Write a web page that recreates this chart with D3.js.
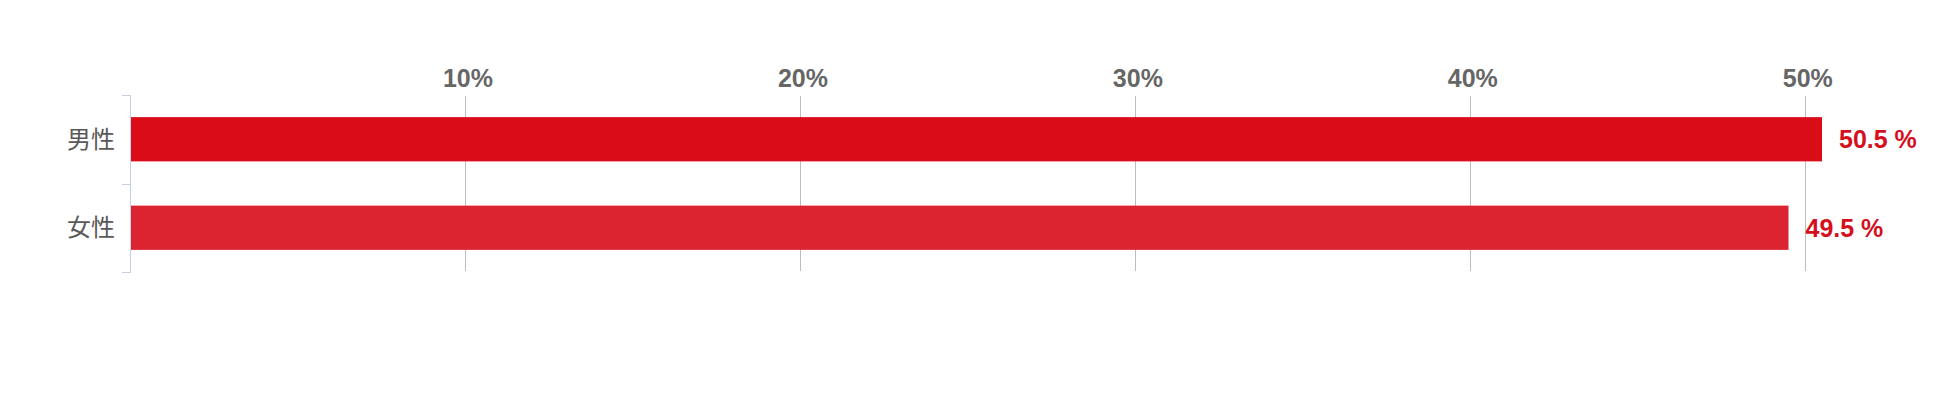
<!DOCTYPE html>
<html>
<head>
<meta charset="utf-8">
<script src="https://cdn.jsdelivr.net/npm/d3@7"></script>
<style>
  body { margin: 0; background: #fff; }
</style>
</head>
<body>
<script>
const w = 1950;
const h = 407;

const categories = ["男性", "女性"];
const values = [50.5, 49.5];
const barColors = ["#d90c18", "#dc2431"];
const tickValues = [10, 20, 30, 40, 50];

const svg = d3.select("body")
  .append("svg")
  .attr("width", w)
  .attr("height", h);

const xScale = d3.scaleLinear()
  .domain([0, 50.5])
  .range([130.5, 1822]);

const yScale = d3.scaleBand()
  .domain(categories)
  .range([95, 272])
  .paddingInner(0.5)
  .paddingOuter(0.25);

// grid lines behind the bars
svg.append("g")
  .selectAll("line")
  .data(tickValues)
  .enter()
  .append("line")
  .attr("x1", d => Math.round(xScale(d)) + 0.5)
  .attr("x2", d => Math.round(xScale(d)) + 0.5)
  .attr("y1", 96)
  .attr("y2", 271)
  .attr("stroke", "#bdbdbd")
  .attr("stroke-width", 1);

// x tick labels on top
const xAxis = d3.axisTop(xScale)
  .tickValues(tickValues)
  .tickSize(0)
  .tickPadding(0)
  .tickFormat(d => d + "%");

const gx = svg.append("g")
  .attr("transform", "translate(0,86.5)")
  .call(xAxis);
gx.select(".domain").remove();
gx.selectAll("text")
  .attr("dy", 0)
  .attr("x", 2)
  .style("font-family", "'Liberation Sans', Arial, sans-serif")
  .style("font-size", "25px")
  .style("font-weight", "bold")
  .style("fill", "#666");

// bars
svg.append("g")
  .selectAll("rect")
  .data(categories)
  .enter()
  .append("rect")
  .attr("x", xScale(0))
  .attr("y", d => yScale(d))
  .attr("width", (d, i) => xScale(values[i]) - xScale(0))
  .attr("height", yScale.bandwidth())
  .attr("fill", (d, i) => barColors[i]);

// left axis line with ticks between categories
const yr = yScale.range();
const bounds = [yr[0], (yr[0] + yr[1]) / 2, yr[1]];
const gy = svg.append("g");
gy.append("line")
  .attr("x1", 130.5)
  .attr("x2", 130.5)
  .attr("y1", yr[0])
  .attr("y2", yr[1])
  .attr("stroke", "#c4d2e6");
gy.selectAll(".ytick")
  .data(bounds)
  .enter()
  .append("line")
  .attr("class", "ytick")
  .attr("x1", 122)
  .attr("x2", 131)
  .attr("y1", d => Math.round(d) + 0.5)
  .attr("y2", d => Math.round(d) + 0.5)
  .attr("stroke", "#c4d2e6");

// category labels
svg.append("g")
  .selectAll("text")
  .data(categories)
  .enter()
  .append("text")
  .text(d => d)
  .attr("x", 115)
  .attr("y", d => yScale(d) + yScale.bandwidth() / 2)
  .attr("dy", "0.36em")
  .attr("text-anchor", "end")
  .style("font-family", "'Noto Sans CJK JP', sans-serif")
  .style("font-size", "24px")
  .style("fill", "#595959");

// value labels
svg.append("g")
  .selectAll("text")
  .data(categories)
  .enter()
  .append("text")
  .text((d, i) => values[i].toFixed(1) + " %")
  .attr("x", (d, i) => xScale(values[i]) + 17)
  .attr("y", d => yScale(d) + yScale.bandwidth() / 2)
  .attr("dy", "0.36em")
  .style("font-family", "'Liberation Sans', Arial, sans-serif")
  .style("font-size", "25px")
  .style("font-weight", "bold")
  .style("fill", "#d50f1d");
</script>
</body>
</html>
